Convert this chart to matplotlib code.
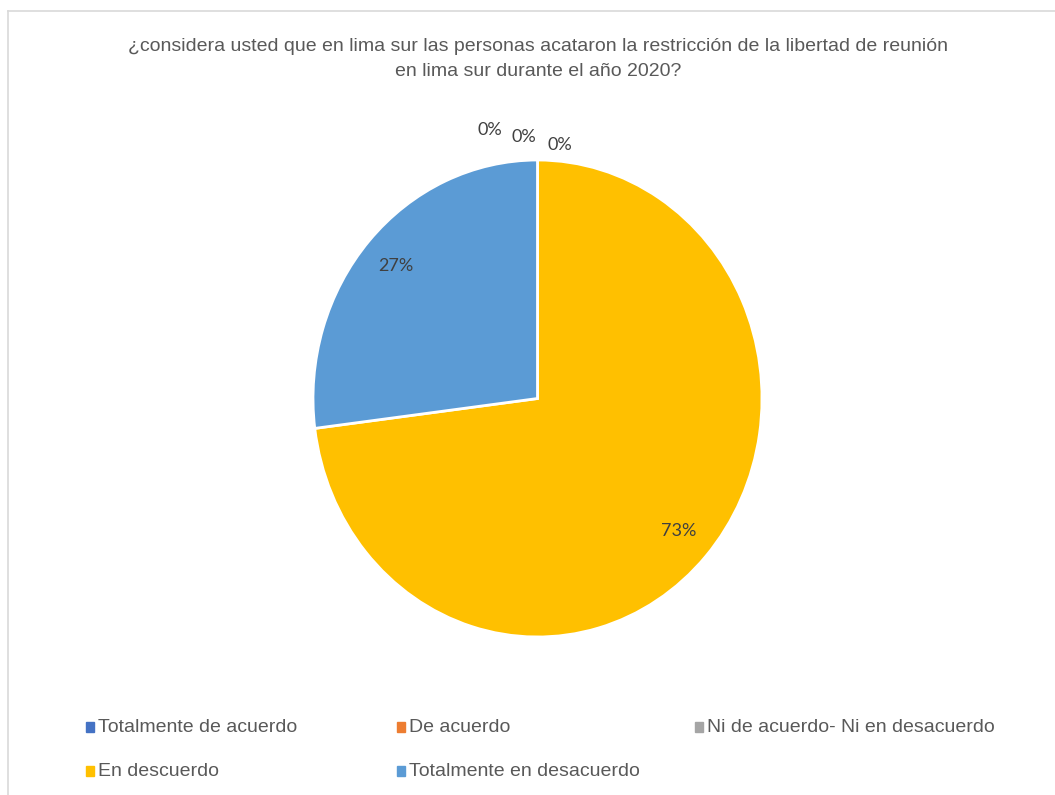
import numpy as np
import matplotlib.pyplot as plt
from matplotlib.patches import Rectangle

title = "¿considera usted que en lima sur las personas acataron la restricción de la libertad de reunión\nen lima sur durante el año 2020?"
categories = ["Totalmente de acuerdo", "De acuerdo", "Ni de acuerdo- Ni en desacuerdo",
              "En descuerdo", "Totalmente en desacuerdo"]
values = [0, 0, 0, 73, 27]
colors = ["#4472C4", "#ED7D31", "#A5A5A5", "#FFC000", "#5B9BD5"]

TXT_FONT = ["Liberation Sans", "DejaVu Sans"]
LABEL_FONT = ["Lato", "Noto Sans", "DejaVu Sans"]

W, H = 1055, 795
fig = plt.figure(figsize=(W / 100, H / 100), dpi=100)

# overlay axes in pixel coordinates for border, title and legend
ov = fig.add_axes([0, 0, 1, 1])
ov.set_xlim(0, W)
ov.set_ylim(H, 0)
ov.axis("off")

# chart area border (open on the right / bottom)
ov.plot([8, W], [11, 11], color="#D9D9D9", lw=1.2)
ov.plot([8, 8], [11, H], color="#D9D9D9", lw=1.2)

ov.text(538, 59, title, ha="center", va="center", fontsize=14,
        color="#595959", family=TXT_FONT, linespacing=1.65)

# legend, row by row like Excel
leg_x = [86, 397, 695]
leg_y = [727, 771]
for i, (lab, c) in enumerate(zip(categories, colors)):
    x, y = leg_x[i % 3], leg_y[i // 3]
    ov.add_patch(Rectangle((x, y - 5), 8, 10, color=c))
    ov.text(x + 12, y, lab, ha="left", va="center", fontsize=14,
            color="#595959", family=TXT_FONT)

# pie drawn clockwise from the top
ax = fig.add_axes([313 / W, 1 - 637 / H, 449 / W, 477 / H])
wedges, _ = ax.pie(values, colors=colors, startangle=90, counterclock=False,
                   wedgeprops=dict(edgecolor="white", linewidth=2))
ax.set_aspect("auto")
ax.set_xlim(-1, 1)
ax.set_ylim(-1, 1)
ax.axis("off")

# percentage labels
zero_offsets = [(100.8, 1.144), (93.2, 1.097), (84.7, 1.066)]
zi = 0
total = sum(values)
for w, v in zip(wedges, values):
    pct = "%d%%" % round(100 * v / total)
    if v == 0:
        ang, r = zero_offsets[zi]
        zi += 1
    else:
        ang, r = (w.theta1 + w.theta2) / 2, 0.84
    ax.text(r * np.cos(np.radians(ang)), r * np.sin(np.radians(ang)), pct,
            ha="center", va="center", fontsize=13, color="#404040",
            family=LABEL_FONT, clip_on=False)

fig.savefig("out.png", dpi=100, facecolor="white")
